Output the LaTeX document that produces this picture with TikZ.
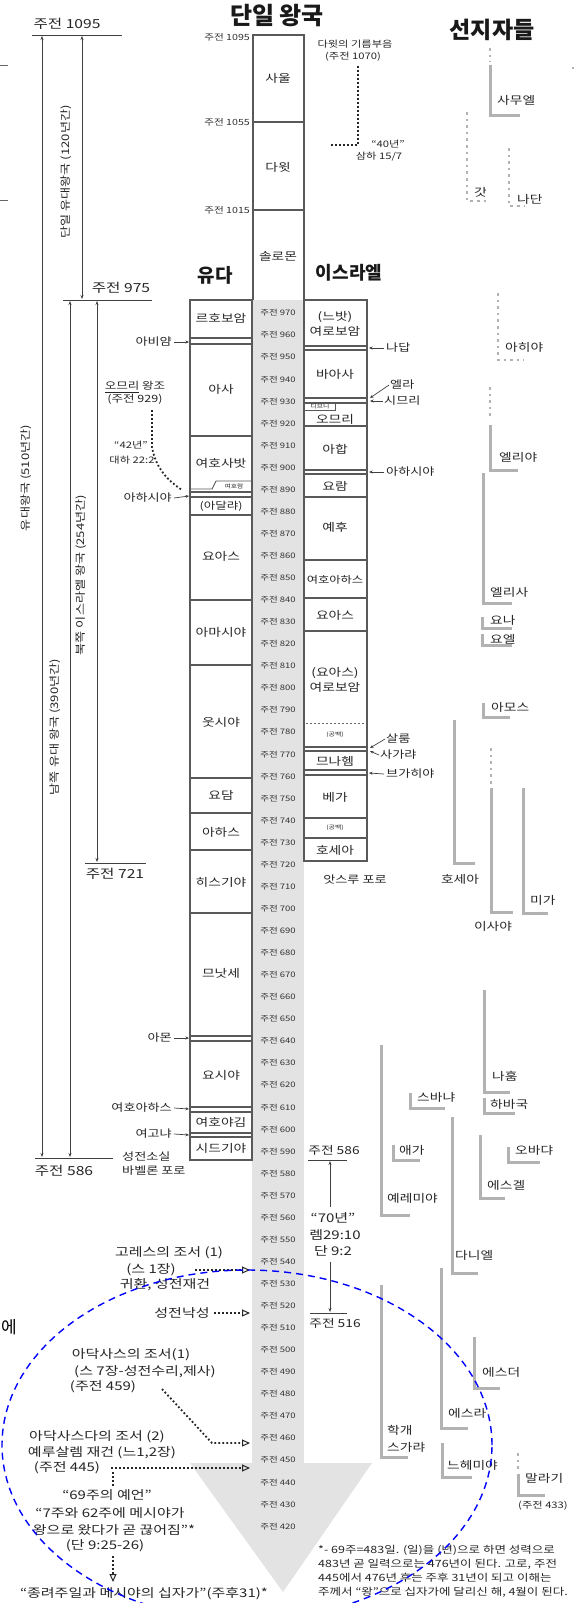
\documentclass[tikz,border=0pt]{standalone}
\usepackage{fontspec}
\setmainfont{Noto Sans CJK KR}[FakeStretch=1.25]
\newfontfamily\krn{Noto Sans CJK KR}
\usetikzlibrary{arrows.meta}
\tikzset{
 fs/.style 2 args={font=\fontsize{#1}{#2}\selectfont},
 yr/.style={fs={7.6}{9},inner sep=0,text=black!80},
 yl/.style={fs={8.5}{10},inner sep=0,text=black!80},
 king/.style={fs={11}{14.5},inner sep=0,align=center,text=black!85},
 lab/.style={fs={10.5}{13},inner sep=0,text=black!85},
 prop/.style={fs={11}{13},inner sep=0,anchor=west,text=black!85},
 mtext/.style={fs={12}{15},inner sep=0,text=black!85},
 btxt/.style={fs={12.5}{15},inner sep=0,text=black!85},
 rot/.style={fs={10.5}{12},inner sep=0,rotate=90,text=black!85},
 smalltext/.style={fs={9}{11},inner sep=0,text=black!85},
 tinytext/.style={fs={5.5}{6},inner sep=0,text=black!85},
 ftxt/.style={fs={10}{12},inner sep=0,anchor=west,text=black!85},
 ttl/.style={font=\krn\bfseries\fontsize{#1}{#1}\selectfont,inner sep=0,text=black!90},
 kbox/.style={draw=black!65,line width=1.1pt},
 hrule/.style={draw=black!75,line width=0.9pt},
 perarr/.style={draw=black!75,line width=0.9pt,{Stealth[length=4pt,width=3pt]}-{Stealth[length=4pt,width=3pt]}},
 sarr/.style={draw=black!75,line width=0.7pt,-{Stealth[length=3.5pt,width=3pt]}},
 varr/.style={draw=black!75,line width=0.8pt,-{Stealth[length=4pt,width=3pt]}},
 pl/.style={draw=gray!60,line width=3pt},
 pd/.style={draw=gray!60,line width=2.6pt,dash pattern=on 2.6pt off 4pt},
 bd/.style={draw=black!85,line width=1.8pt,dash pattern=on 1.8pt off 2.2pt},
 oarr/.style={-{Triangle[open,length=8pt,width=7pt,line width=1pt]}},
 blued/.style={draw=blue,line width=1.4pt,dash pattern=on 7pt off 5pt},
}
\begin{document}
\begin{tikzpicture}[x=1pt,y=-1pt]
\clip (0,0) rectangle (576,1603);
\fill[white] (0,0) rectangle (576,1603);

% grey time strip with arrow head
\fill[gray!22] (252,300) rectangle (304,1464);
\fill[gray!22] (190,1463) -- (372,1463) -- (283,1592) -- cycle;
\foreach \yr in {970,960,...,420}
  \node[yr] (y\yr) at (278,{313+(970-\yr)*2.206}) {주전 \yr};

% titles
\node[ttl=24] (tone) at (277,16) {단일 왕국};
\node[ttl=23] (tprop) at (492,30) {선지자들};
\node[ttl=19] (tjud) at (215,275) {유다};
\node[ttl=18] (tisr) at (349,273) {이스라엘};

% edge marks
\draw[black!60,line width=0.8pt] (0,65) -- (8,65) (0,200) -- (8,200);
\fill[black!60] (573,68) circle (0.8pt);
\node[font=\krn\fontsize{17}{17}\selectfont,inner sep=0] (e) at (9,1327) {에};

% single kingdom column
\draw[kbox] (253,300) -- (253,35) -- (304,35) -- (304,300);
\draw[kbox] (253,122) -- (304,122) (253,210) -- (304,210);
\node[king] (saul) at (278,78) {사울};
\node[king] (david) at (278,167) {다윗};
\node[king] (sol) at (278,256) {솔로몬};
\node[yl,anchor=east] (k1095) at (250,37) {주전 1095};
\node[yl,anchor=east] (k1055) at (250,122) {주전 1055};
\node[yl,anchor=east] (k1015) at (250,210) {주전 1015};

% anointing of David
\node[smalltext] (anoint) at (355,44) {다윗의 기름부음};
\node[smalltext] (a1070) at (353,57) {(주전 1070)};
\coordinate (dtop) at (358,66);
\coordinate (dcorner) at (358,145);
\coordinate (dend) at (330,145);
\draw[bd,line width=1.5pt] (dtop) -- (dcorner) -- (dend);
\node[smalltext] (forty) at (388,144) {“40년”};
\node[smalltext] (samha) at (379,157) {삼하 15/7};

% left period bars
\draw[hrule] (32,35) -- (122,35);
\node[btxt] (d1095) at (67,24) {주전 1095};
\draw[perarr] (42,36) -- (42,1157);
\draw[perarr] (82,36) -- (82,299);
\draw[hrule] (63,300) -- (152,300);
\node[btxt] (d975) at (121,288) {주전 975};
\draw[perarr] (70,301) -- (70,1157);
\draw[perarr] (97,301) -- (97,862);
\draw[hrule] (85,863) -- (146,863);
\node[btxt] (d721) at (115,874) {주전 721};
\draw[hrule] (35,1158) -- (113,1158);
\node[btxt] (d586) at (64,1171) {주전 586};
\node[rot] (r510) at (26,478) {유대왕국 (510년간)};
\node[rot] (r120) at (66,172) {단일 유대왕국 (120년간)};
\node[rot] (r254) at (81,575) {북쪽 이스라엘 왕국 (254년간)};
\node[rot] (r390) at (55,727) {남쪽 유대 왕국 (390년간)};
\node[lab,anchor=west] (burn) at (122,1157) {성전소실};
\node[lab,anchor=west] (babel) at (122,1171) {바벨론 포로};

% Judah
\foreach \a/\b in {300/338,338/344,344/436,436/492,492/497,497/515,515/600,600/665,665/778,778/813,813/850,850/913,913/1036,1036/1041,1041/1107,1107/1112,1112/1133,1133/1137,1137/1160}
  \draw[kbox] (190,\a) rectangle (252,\b);
\draw[kbox,line width=0.9pt] (190,489) -- (212,489) -- (216,481) -- (252,481);
\node[tinytext] (jrm) at (234,486.5) {여호람};
\node[king] (rehob) at (221,318) {르호보암};
\node[king] (asa) at (221,389) {아사};
\node[king] (jehos) at (221,463) {여호사밧};
\node[king,fs={10}{12}] (athal) at (221,506) {(아달랴)};
\node[king] (joash) at (221,556) {요아스};
\node[king] (amaz) at (221,632) {아마시야};
\node[king] (uzz) at (221,722) {웃시야};
\node[king] (jotham) at (221,795) {요담};
\node[king] (ahaz) at (221,832) {아하스};
\node[king] (hez) at (221,882) {히스기야};
\node[king] (manas) at (221,973) {므낫세};
\node[king] (josiah) at (221,1075) {요시야};
\node[king] (jehoi) at (221,1122) {여호야김};
\node[king] (zed) at (221,1148) {시드기야};

\node[lab,anchor=east] (abijam) at (172,342) {아비얌};
\draw[sarr] ([xshift=2pt]abijam.east) -- (189,342);
\node[lab,anchor=east] (ahaziahJ) at (172,498) {아하시야};
\draw[sarr] ([xshift=2pt]ahaziahJ.east) -- (189,496);
\node[lab,anchor=east] (amon) at (172,1038) {아몬};
\draw[sarr] ([xshift=2pt]amon.east) -- (189,1038);
\node[lab,anchor=east] (jehoahazJ) at (172,1108) {여호아하스};
\draw[sarr] ([xshift=2pt]jehoahazJ.east) -- (189,1109);
\node[lab,anchor=east] (jecon) at (172,1134) {여고냐};
\draw[sarr] ([xshift=2pt]jecon.east) -- (189,1135);

\node[lab,fs={10}{12}] (omri) at (135,387) {\underline{오므리} 왕조};
\node[lab,fs={10}{12}] (o929) at (135,399) {(주전 929)};
\draw[bd] (152,410) -- (152,447) .. controls (156,470) and (170,482) .. (182,490);
\node[smalltext] (f42) at (131,445) {“42년”};
\node[smalltext] (dh) at (132,460) {대하 22:2};

% Israel
\foreach \a/\b in {300/346,346/350,350/398,398/403,403/426,426/470,470/474,474/497,497/560,560/598,598/631,631/747,747/751,751/770,770/775,775/818,818/838,838/861}
  \draw[kbox] (304,\a) rectangle (367,\b);
\draw[kbox,line width=0.8pt] (304,410) -- (335,410) -- (335,403);
\node[tinytext] (tibni) at (320,406.5) {디브니};
\draw[black!60,line width=0.8pt,dash pattern=on 2pt off 2pt] (306,723) -- (365,723);
\node[king] (jerob1) at (335,324) {(느밧)\\여로보암};
\node[king] (baasha) at (335,374) {바아사};
\node[king] (omriK) at (335,419) {오므리};
\node[king] (ahab) at (335,449) {아합};
\node[king] (joram) at (335,486) {요람};
\node[king] (jehu) at (335,527) {예후};
\node[king,fs={9.8}{12}] (jehoahazI) at (335,580) {여호아하스};
\node[king] (joashI) at (335,615) {요아스};
\node[king] (jerob2) at (335,680) {(요아스)\\여로보암};
\node[tinytext] (gap1) at (335,735) {(공백)};
\node[king] (menah) at (335,761) {므나헴};
\node[king] (pekah) at (335,797) {베가};
\node[tinytext] (gap2) at (335,828) {(공백)};
\node[king] (hoshea) at (335,850) {호세아};
\node[lab] (assyr) at (355,880) {앗스루 포로};

\node[lab,anchor=west] (nadab) at (386,348) {나답};
\draw[sarr] ([xshift=-2pt]nadab.west) -- (369,348);
\node[lab,anchor=west] (elah) at (390,385) {엘라};
\node[lab,anchor=west] (zimri) at (384,401) {시므리};
\draw[sarr] ([xshift=-1pt]elah.west) -- (370,398);
\draw[sarr] ([xshift=-1pt]zimri.west) -- (370,401);
\node[lab,anchor=west] (ahaziahI) at (386,472) {아하시야};
\draw[sarr] ([xshift=-2pt]ahaziahI.west) -- (369,472);
\node[lab,anchor=west] (shallum) at (386,739) {살룸};
\node[lab,anchor=west] (zech) at (380,755) {사가랴};
\draw[sarr] ([xshift=-1pt]shallum.west) -- (370,748);
\draw[sarr] ([xshift=-1pt]zech.west) -- (370,751);
\node[lab,anchor=west] (pekahiah) at (386,774) {브가히야};
\draw[sarr] ([xshift=-2pt]pekahiah.west) -- (369,773);

% prophets
\draw[pd] (490,48) -- (490,62);
\draw[pl] (490,65) |- (520,115);
\node[prop] (samuel) at (497,100) {사무엘};
\draw[pd] (467,112) -- (467,201) -- (488,201);
\node[prop] (gad) at (474,192) {갓};
\draw[pd] (509,148) -- (509,206) -- (524,206);
\node[prop] (nathan) at (517,199) {나단};
\draw[pd] (498,293) -- (498,360) -- (524,360);
\node[prop] (ahijah) at (505,347) {아히야};
\draw[pd] (490,387) -- (490,418);
\draw[pl] (490,425) |- (518,470);
\node[prop] (elijah) at (499,457) {엘리야};
\draw[pl] (483,473) |- (512,603);
\node[prop] (elisha) at (490,592) {엘리사};
\draw[pl] (482,617) |- (512,628);
\node[prop] (jonah) at (490,620) {요나};
\draw[pl] (482,634) |- (512,645);
\node[prop] (joel) at (490,639) {요엘};
\draw[pl] (483,703) |- (510,717);
\node[prop] (amos) at (491,707) {아모스};
\draw[pl] (454,720) |- (475,863);
\node[prop,anchor=center] (hoseaP) at (460,879) {호세아};
\draw[pd] (491,748) -- (491,784);
\draw[pl] (491,788) |- (513,912);
\node[prop,anchor=center] (isaiah) at (493,926) {이사야};
\draw[pl] (523,788) |- (548,913);
\node[prop] (micah) at (530,900) {미가};
\draw[pl] (484,990) |- (510,1092);
\node[prop] (nahum) at (492,1076) {나훔};
\draw[pl] (484,1098) |- (515,1113);
\node[prop] (habak) at (490,1104) {하바국};
\draw[pl] (410,1093) |- (445,1108);
\node[prop] (zeph) at (417,1097) {스바냐};
\draw[pl] (381,1045) |- (410,1215);
\node[prop] (jerem) at (387,1198) {예레미야};
\draw[pl] (393,1145) |- (420,1160);
\node[prop] (lament) at (399,1150) {애가};
\draw[pl] (508,1147) |- (540,1162);
\node[prop] (obad) at (515,1150) {오바댜};
\draw[pl] (480,1135) |- (505,1198);
\node[prop] (ezek) at (487,1185) {에스겔};
\draw[pl] (452,1117) |- (478,1273);
\node[prop] (daniel) at (455,1255) {다니엘};
\draw[pl] (381,1285) |- (408,1457);
\node[prop] (haggai) at (387,1430) {학개};
\node[prop] (zechP) at (387,1447) {스가랴};
\draw[pl] (441,1268) |- (468,1428);
\node[prop] (ezra) at (448,1413) {에스라};
\draw[pl] (474,1337) |- (500,1388);
\node[prop] (esther) at (482,1372) {에스더};
\draw[pl] (442,1443) |- (472,1477);
\node[prop] (nehem) at (447,1465) {느헤미야};
\draw[pd] (518,1453) -- (518,1469);
\draw[pl] (518,1474) |- (545,1495);
\node[prop] (malachi) at (525,1478) {말라기};
\node[smalltext] (m433) at (543,1506) {(주전 433)};

% seventy years
\node[mtext,fs={11}{13}] (p586) at (334,1150) {주전 586};
\draw[hrule] (308,1160) -- (347,1160);
\node[mtext] (s70) at (333,1218) {“70년”};
\node[mtext] (jer) at (335,1235) {렘29:10};
\node[mtext] (dan92) at (333,1251) {단 9:2};
\draw[varr] (330,1207) -- (330,1161);
\draw[varr] (330,1262) -- (330,1312);
\draw[hrule] (310,1313) -- (347,1313);
\node[mtext,fs={11}{13}] (p516) at (335,1323) {주전 516};

% decrees
\node[mtext] (cyr1) at (169,1253) {고레스의 조서 (1)};
\node[mtext] (cyr2) at (151,1270) {(스 1장)};
\node[mtext] (cyr3) at (165,1285) {귀환, 성전재건};
\coordinate (c540) at (250,1270);
\draw[bd,oarr] (195,1270) -- (c540);
\node[mtext] (dedic) at (182,1313) {성전낙성};
\coordinate (c515) at (250,1313);
\draw[bd,oarr] ([xshift=4pt]dedic.east) -- (c515);
\node[mtext] (art1) at (131,1355) {아닥사스의 조서(1)};
\node[mtext] (art2) at (145,1372) {(스 7장-성전수리,제사)};
\node[mtext] (art3) at (103,1387) {(주전 459)};
\coordinate (c459) at (250,1443);
\draw[bd,oarr] (162,1389) -- (212,1443) -- (c459);
\node[mtext] (ar1) at (97,1437) {아닥사스다의 조서 (2)};
\node[mtext] (ar2) at (102,1453) {예루살렘 재건 (느1,2장)};
\node[mtext] (ar3) at (67,1468) {(주전 445)};
\coordinate (c445) at (250,1468);
\draw[bd,oarr] (111,1468) -- (c445);
\draw[bd] (113,1472) -- (113,1486);
\node[mtext] (w1) at (107,1495) {“69주의 예언”};
\node[mtext] (w2) at (110,1513) {“7주와 62주에 메시야가};
\node[mtext] (w3) at (114,1530) {왕으로 왔다가 곧 끊어짐”*};
\node[mtext] (w4) at (105,1546) {(단 9:25-26)};
\draw[bd,oarr] (113,1556) -- (113,1582);
\node[mtext] (palm) at (144,1594) {“종려주일과 메시야의 십자가”(주후31)*};

% footnote
\node[ftxt] (fn1) at (318,1550) {*- 69주=483일. (일)을 (년)으로 하면 성력으로};
\node[ftxt] (fn2) at (318,1564) {483년 곧 일력으로는 476년이 된다. 고로, 주전};
\node[ftxt] (fn3) at (318,1578) {445에서 476년 후는 주후 31년이 되고 이해는};
\node[ftxt] (fn4) at (318,1592) {주께서 “왕”으로 십자가에 달리신 해, 4월이 된다.};

% blue dashed ellipse
\draw[blued] (247,1445) ellipse [x radius=245pt, y radius=175pt];
\end{tikzpicture}
\end{document}
